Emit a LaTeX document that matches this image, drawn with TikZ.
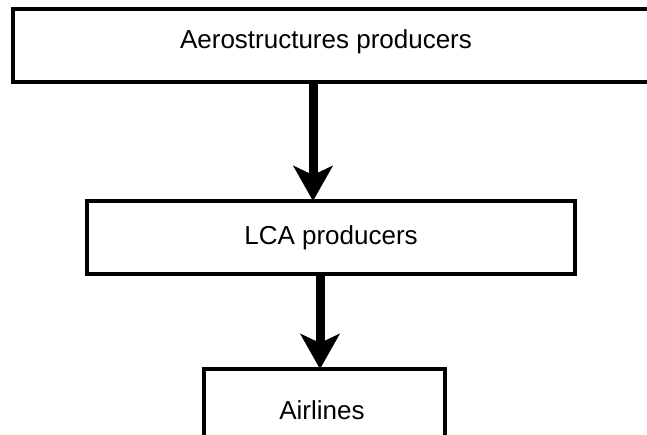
\documentclass[tikz,border=0pt]{standalone}
\usepackage{fontspec}
\setmainfont{Liberation Sans}
\usetikzlibrary{arrows.meta}
\tikzset{
  box/.style={draw, line width=3.6pt, outer sep=0pt, inner sep=0pt, rectangle},
  flow/.style={line width=9pt, -{Stealth[width=39pt, length=35pt, inset=9pt]}}
}
\begin{document}
\begin{tikzpicture}[x=1pt, y=-1pt, font=\fontsize{26}{30}\selectfont]
\useasboundingbox (0,0) rectangle (647,434);

% Boxes
\node[box, anchor=north west, minimum width=700pt, minimum height=73pt] (aero) at (13,9) {};
\node (aerotext) at (326,42) {Aerostructures producers};
\node[box, anchor=north west, minimum width=488pt, minimum height=73pt] (lca) at (87,201) {LCA producers};
\node[box, anchor=north west, minimum width=241pt, minimum height=100pt] (air) at (204,369) {};
\node (airtext) at (322,410) {Airlines};

% Arrows
\coordinate (a1) at (313,0);
\coordinate (a2) at (320,0);
\draw[flow] (aero.south -| a1) -- (lca.north -| a1);
\draw[flow] (lca.south -| a2) -- (air.north -| a2);
\end{tikzpicture}
\end{document}
